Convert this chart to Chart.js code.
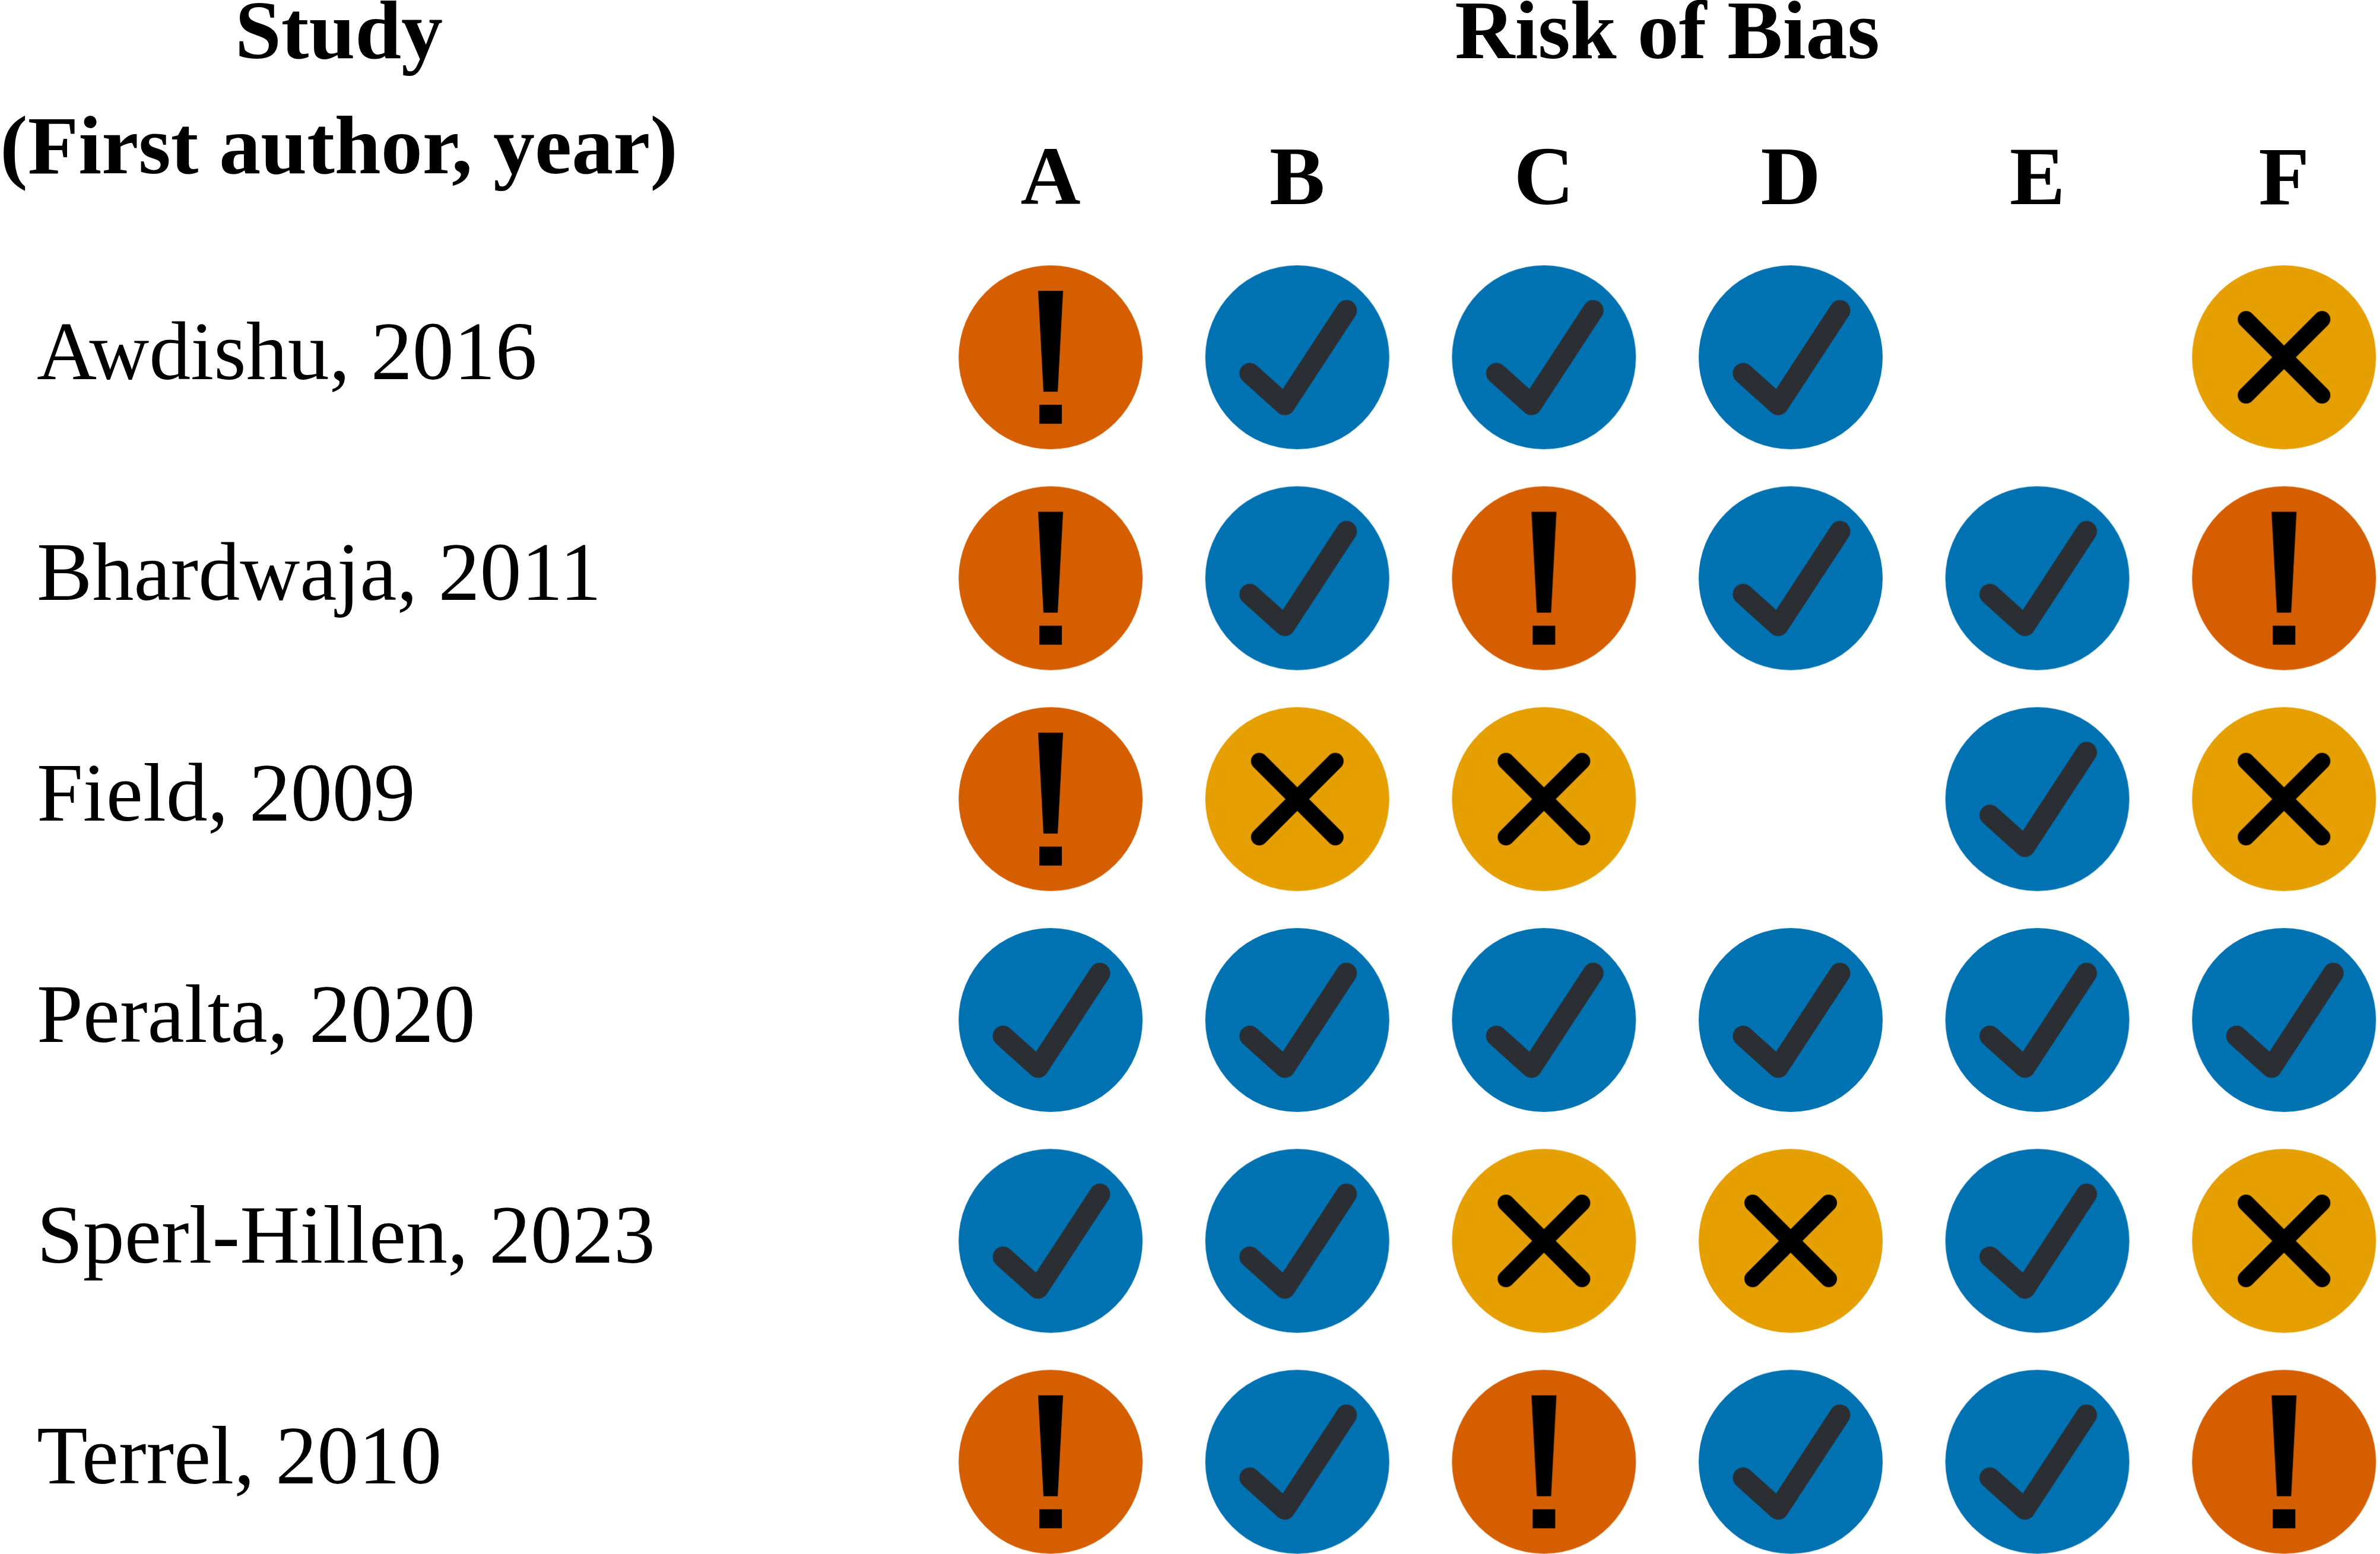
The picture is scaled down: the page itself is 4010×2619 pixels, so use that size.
<!DOCTYPE html>
<html>
<head>
<meta charset="utf-8">
<title>Risk of Bias</title>
<script src="https://cdn.jsdelivr.net/npm/chart.js@4.4.1/dist/chart.umd.min.js"></script>
<style>
  html, body { margin: 0; padding: 0; background: #fff; }
  canvas { display: block; }
</style>
</head>
<body>
<canvas id="rob-chart" width="4010" height="2619"></canvas>
<script>
// studies, top to bottom
const studies = [
  "Awdishu, 2016",
  "Bhardwaja, 2011",
  "Field, 2009",
  "Peralta, 2020",
  "Sperl-Hillen, 2023",
  "Terrel, 2010",
];
const domains = ["A", "B", "C", "D", "E", "F"];

// one judgement per domain: L = low (check), S = some concerns (!), H = high (x), "" = none
const awdishu = ["S", "L", "L", "L", "", "H"];
const bhardwaja = ["S", "L", "S", "L", "L", "S"];
const field = ["S", "H", "H", "", "L", "H"];
const peralta = ["L", "L", "L", "L", "L", "L"];
const sperlHillen = ["L", "L", "H", "H", "L", "H"];
const terrel = ["S", "L", "S", "L", "L", "S"];

const judgements = [awdishu, bhardwaja, field, peralta, sperlHillen, terrel];

const RADIUS = 155;

// build a marker image: filled circle with a symbol on it
function makeMarker(fill, drawSymbol) {
  const size = RADIUS * 2 + 4;
  const c = document.createElement("canvas");
  c.width = size;
  c.height = size;
  const ctx = c.getContext("2d");
  ctx.translate(size / 2, size / 2);
  ctx.fillStyle = fill;
  ctx.beginPath();
  ctx.arc(0, 0, RADIUS, 0, Math.PI * 2);
  ctx.fill();
  drawSymbol(ctx);
  return c;
}

const checkMarker = makeMarker("#0072B2", (ctx) => {
  ctx.strokeStyle = "#2B2F33";
  ctx.lineWidth = 35;
  ctx.lineCap = "round";
  ctx.lineJoin = "round";
  ctx.beginPath();
  ctx.moveTo(-80, 27);
  ctx.lineTo(-21, 80);
  ctx.lineTo(83, -79);
  ctx.stroke();
});

const crossMarker = makeMarker("#E69F00", (ctx) => {
  ctx.strokeStyle = "#000";
  ctx.lineWidth = 28;
  ctx.lineCap = "round";
  ctx.beginPath();
  ctx.moveTo(-64, -64);
  ctx.lineTo(64, 64);
  ctx.moveTo(64, -64);
  ctx.lineTo(-64, 64);
  ctx.stroke();
});

const bangMarker = makeMarker("#D55E00", (ctx) => {
  ctx.fillStyle = "#000";
  ctx.beginPath();
  ctx.moveTo(-21, -112);
  ctx.lineTo(21, -112);
  ctx.lineTo(12, 58);
  ctx.lineTo(-12, 58);
  ctx.closePath();
  ctx.fill();
  ctx.fillRect(-19, 80, 38, 32);
});

function pointsFor(code) {
  const pts = [];
  judgements.forEach((row, yi) => {
    row.forEach((j, xi) => {
      if (j === code) pts.push({ x: xi, y: yi });
    });
  });
  return pts;
}

// column headers and study header
const headerPlugin = {
  id: "headers",
  afterDraw(chart) {
    const ctx = chart.ctx;
    const xs = chart.scales.x;
    ctx.save();
    ctx.fillStyle = "#000";
    ctx.textAlign = "center";
    ctx.textBaseline = "alphabetic";
    ctx.font = "bold 140px 'Liberation Serif'";
    ctx.fillText("Study", 571, 98);
    ctx.fillText("(First author, year)", 571, 292);
    const mid = (xs.getPixelForValue(0) + xs.getPixelForValue(domains.length - 1)) / 2;
    ctx.fillText("Risk of Bias", mid, 98);
    ctx.restore();
  },
};

const ctx = document.getElementById("rob-chart");
new Chart(ctx, {
  type: "scatter",
  data: {
    datasets: [
      { label: "Low", data: pointsFor("L"), pointStyle: checkMarker },
      { label: "Some concerns", data: pointsFor("S"), pointStyle: bangMarker },
      { label: "High", data: pointsFor("H"), pointStyle: crossMarker },
    ],
  },
  options: {
    responsive: false,
    animation: false,
    layout: { padding: { left: 62, top: 0, right: 0, bottom: 0 } },
    datasets: { scatter: { clip: false } },
    plugins: {
      legend: { display: false },
      tooltip: { enabled: false },
    },
    scales: {
      x: {
        type: "linear",
        position: "top",
        min: -0.645,
        max: 5.377,
        grid: { display: false },
        border: { display: false },
        afterBuildTicks: (scale) => {
          scale.ticks = domains.map((d, i) => ({ value: i }));
        },
        afterFit: (scale) => {
          scale.height = 400;
          scale.paddingLeft = 0;
          scale.paddingRight = 0;
        },
        ticks: {
          padding: 0,
          color: "#000",
          font: { family: "'Liberation Serif'", size: 140, weight: "bold" },
          callback: (v) => domains[v],
        },
      },
      y: {
        type: "linear",
        reverse: true,
        min: -0.543,
        max: 5.404,
        grid: { display: false },
        border: { display: false },
        afterBuildTicks: (scale) => {
          scale.ticks = studies.map((s, i) => ({ value: i }));
        },
        afterFit: (scale) => {
          scale.width = 1440;
          scale.paddingTop = 0;
          scale.paddingBottom = 0;
        },
        ticks: {
          crossAlign: "far",
          color: "#000",
          font: { family: "'Liberation Serif'", size: 140 },
          callback: (v) => studies[v],
        },
      },
    },
  },
  plugins: [headerPlugin],
});
</script>
</body>
</html>
